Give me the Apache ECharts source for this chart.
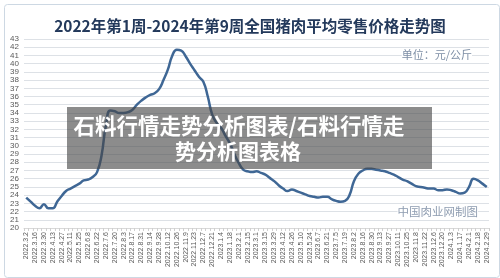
<!DOCTYPE html>
<html>
<head>
<meta charset="utf-8">
<script src="https://cdn.jsdelivr.net/npm/echarts@6/dist/echarts.min.js"></script>
<style>
  html, body { margin: 0; padding: 0; background: #fff; }
  #chart { width: 500px; height: 278px; }
</style>
</head>
<body>
<div id="chart"></div>
<script>
// 每两周一个标签
var dateLabels = [
  '2022.3.2', '2022.3.16', '2022.3.30', '2022.4.13', '2022.4.27', '2022.5.11', '2022.5.25',
  '2022.6.8', '2022.6.22', '2022.7.6', '2022.7.20', '2022.8.3', '2022.8.17', '2022.8.31',
  '2022.9.14', '2022.9.28', '2022.10.12', '2022.10.26', '2022.11.9', '2022.11.23', '2022.12.7',
  '2022.12.21', '2023.1.4', '2023.1.18', '2023.2.1', '2023.2.15', '2023.3.1', '2023.3.15',
  '2023.3.29', '2023.4.12', '2023.4.26', '2023.5.10', '2023.5.24', '2023.6.7', '2023.6.21',
  '2023.7.5', '2023.7.19', '2023.8.2', '2023.8.16', '2023.8.30', '2023.9.13', '2023.9.27',
  '2023.10.11', '2023.10.25', '2023.11.8', '2023.11.22', '2023.12.6', '2023.12.20',
  '2024.1.3', '2024.1.17', '2024.2.1', '2024.2.18', '2024.2.29'
];

// 周度价格 元/公斤
var prices = [
  23.7, 23.2, 22.7, 22.4, 22.9, 22.4, 22.4, 23.2, 23.9, 24.5,
  24.8, 25.1, 25.4, 25.8, 25.9, 26.2, 26.8, 28.8, 32.5, 34.3,
  34.2, 34.0, 34.0, 34.1, 34.4, 35.0, 35.5, 35.9, 36.2, 36.4,
  36.9, 38.0, 39.3, 41.0, 41.7, 41.6, 40.9, 40.0, 39.2, 38.4,
  37.8, 36.0, 33.8, 32.8, 32.2, 31.2, 30.3, 29.0, 27.9, 27.1,
  26.9, 26.8, 26.9, 26.7, 26.5, 26.1, 25.7, 25.2, 24.8, 24.5,
  24.7, 24.5, 24.3, 24.1, 23.9, 23.8, 23.7, 23.8, 23.8, 23.5,
  23.3, 23.2, 23.3, 24.0, 25.7, 26.6, 27.0, 27.2, 27.2, 27.1,
  27.0, 26.9, 26.7, 26.5, 26.2, 25.9, 25.7, 25.4, 25.1, 25.0,
  24.9, 24.8, 24.8, 24.6, 24.6, 24.7, 24.6, 24.4, 24.2, 24.3,
  25.0, 26.0, 25.8, 25.4, 25.0
];

var yMin = 20, yMax = 43;

// 标签之间插入空白周
var categories = [];
for (var i = 0; i < dateLabels.length; i++) {
  categories.push(dateLabels[i]);
  if (i < dateLabels.length - 1) categories.push('');
}

var myChart = echarts.init(document.getElementById('chart'));
var option = {
  animation: false,
  title: {
    text: '2022年第1周-2024年第9周全国猪肉平均零售价格走势图',
    left: 'center',
    top: 13,
    textStyle: {
      color: '#23395b',
      fontSize: 15.5,
      fontWeight: 'bold',
      fontFamily: 'Noto Sans CJK SC'
    }
  },
  grid: { left: 24, right: 11, top: 39, bottom: 50 },
  xAxis: {
    type: 'category',
    data: categories,
    boundaryGap: true,
    axisLine: { lineStyle: { color: '#d9d9d9' } },
    axisTick: { show: true, interval: 0, length: 3, lineStyle: { color: '#d0d0d0' } },
    axisLabel: {
      interval: 0,
      rotate: 90,
      fontSize: 7,
      color: '#595959',
      margin: 4,
      fontFamily: 'Liberation Sans'
    }
  },
  yAxis: {
    type: 'value',
    min: yMin,
    max: yMax,
    interval: 1,
    axisLine: { show: false },
    axisTick: { show: false },
    axisLabel: { fontSize: 8, color: '#595959', margin: 5, fontFamily: 'Liberation Sans' },
    splitLine: { lineStyle: { color: '#dde1e6', width: 1 } }
  },
  series: [{
    type: 'line',
    data: prices,
    smooth: true,
    showSymbol: false,
    lineStyle: { color: '#3f6795', width: 2.5 },
    z: 3
  }],
  graphic: [
    {
      type: 'rect',
      left: 2, top: 2,
      shape: { width: 495, height: 273, r: 3 },
      style: { fill: 'none', stroke: '#cdd8e3', lineWidth: 1 },
      silent: true
    },
    {
      type: 'text',
      right: 28, top: 49,
      style: {
        text: '单位：元/公斤',
        fill: '#7d8ea5',
        font: '11px "Noto Sans CJK SC"',
        backgroundColor: '#fff'
      },
      z: 5
    },
    {
      type: 'text',
      right: 22, top: 206,
      style: {
        text: '中国肉业网制图',
        fill: '#8e9cb0',
        font: '11.5px "Noto Sans CJK SC"',
        backgroundColor: '#fff'
      },
      z: 5
    },
    {
      type: 'rect',
      left: 67, top: 107,
      shape: { width: 365, height: 62 },
      style: { fill: 'rgba(70,70,70,0.62)' },
      z: 10
    },
    {
      type: 'text',
      x: 239, y: 126,
      style: {
        text: '石料行情走势分析图表/石料行情走',
        fill: '#fff',
        font: 'bold 21.5px "Noto Sans CJK SC"',
        align: 'center',
        verticalAlign: 'middle'
      },
      z: 11
    },
    {
      type: 'text',
      x: 238, y: 151,
      style: {
        text: '势分析图表格',
        fill: '#fff',
        font: 'bold 21px "Noto Sans CJK SC"',
        align: 'center',
        verticalAlign: 'middle'
      },
      z: 11
    }
  ]
};
myChart.setOption(option);
</script>
</body>
</html>
